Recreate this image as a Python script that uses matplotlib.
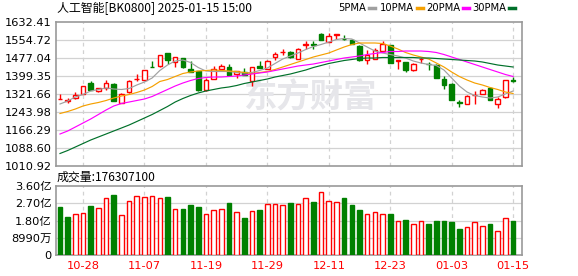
import matplotlib
matplotlib.use('Agg')
import matplotlib.pyplot as plt
from matplotlib.lines import Line2D

plt.rcParams['font.family'] = ['DejaVu Sans', 'Noto Sans CJK SC']

RED = '#ff0000'
GREEN = '#008000'
GRID = '#d2d2d2'
SPINE = '#999999'

dates = ['10-23', '10-24', '10-25', '10-28', '10-29', '10-30', '10-31',
         '11-01', '11-04', '11-05', '11-06', '11-07', '11-08', '11-11', '11-12', '11-13',
         '11-14', '11-15', '11-18', '11-19', '11-20', '11-21', '11-22', '11-25', '11-26',
         '11-27', '11-28', '11-29',
         '12-02', '12-03', '12-04', '12-05', '12-06', '12-09', '12-10', '12-11', '12-12',
         '12-13', '12-16', '12-17', '12-18', '12-19', '12-20', '12-23', '12-24', '12-25',
         '12-26', '12-27', '12-30', '12-31',
         '01-02', '01-03', '01-06', '01-07', '01-08', '01-09', '01-10', '01-13', '01-14',
         '01-15']

opens = [1300.5, 1293.5, 1303.1, 1322.9, 1370.4, 1333.3, 1348.8, 1364.8, 1282.8, 1329.0,
         1385.5, 1382.1, 1439.5, 1441.2, 1498.6, 1461.1, 1477.0, 1429.5, 1419.6, 1340.3,
         1386.4, 1429.5, 1436.8, 1409.3, 1415.3, 1378.0, 1441.0, 1429.5, 1480.0, 1501.5,
         1501.6, 1474.0, 1533.0, 1539.0, 1581.9, 1546.1, 1577.5, 1559.5, 1556.0, 1530.1,
         1469.7, 1474.0, 1508.5, 1531.8, 1466.0, 1459.8, 1424.0, 1473.0, 1452.0, 1448.1,
         1386.4, 1366.1, 1286.0, 1279.8, 1317.5, 1321.6, 1347.5, 1278.5, 1307.4, 1383.0]
highs = [1323.0, 1304.4, 1329.0, 1355.5, 1376.4, 1349.0, 1380.8, 1370.4, 1324.0, 1383.4,
         1409.3, 1425.0, 1462.8, 1490.0, 1499.5, 1481.0, 1478.5, 1465.4, 1420.5, 1390.7,
         1441.2, 1449.8, 1451.1, 1422.0, 1433.9, 1439.0, 1462.8, 1466.5, 1501.6, 1515.9,
         1505.9, 1518.5, 1549.1, 1549.0, 1583.0, 1585.0, 1579.5, 1575.0, 1560.0, 1531.0,
         1510.2, 1520.2, 1549.1, 1532.5, 1468.0, 1460.5, 1453.5, 1475.0, 1458.5, 1449.5,
         1398.0, 1367.0, 1297.1, 1315.5, 1336.0, 1341.5, 1350.6, 1307.4, 1383.0, 1393.7]
lows = [1300.0, 1282.8, 1302.0, 1321.5, 1338.0, 1332.0, 1338.9, 1291.0, 1281.0, 1328.0,
        1376.4, 1381.0, 1437.5, 1440.0, 1452.4, 1439.5, 1436.0, 1414.5, 1333.3, 1333.3,
        1385.0, 1428.0, 1401.0, 1390.7, 1403.0, 1358.0, 1433.5, 1428.5, 1467.1, 1491.3,
        1477.0, 1473.0, 1515.9, 1516.0, 1555.0, 1545.0, 1557.0, 1556.5, 1538.0, 1466.0,
        1452.4, 1473.0, 1507.5, 1454.5, 1430.9, 1415.3, 1423.0, 1455.4, 1424.0, 1389.5,
        1343.2, 1296.0, 1264.2, 1279.0, 1279.8, 1320.5, 1294.5, 1261.2, 1306.0, 1372.2]
closes = [1302.0, 1295.0, 1316.0, 1354.9, 1338.9, 1347.5, 1367.8, 1292.8, 1323.0, 1376.4,
          1388.5, 1423.9, 1438.0, 1488.7, 1467.1, 1480.0, 1436.8, 1415.3, 1340.3, 1383.4,
          1430.9, 1441.2, 1402.3, 1419.6, 1403.7, 1438.0, 1434.0, 1465.4, 1495.6, 1503.0,
          1480.0, 1517.2, 1537.0, 1533.0, 1556.0, 1570.7, 1579.0, 1557.5, 1538.7, 1467.1,
          1491.3, 1510.2, 1538.7, 1455.4, 1467.5, 1424.0, 1452.4, 1474.5, 1449.5, 1390.7,
          1361.8, 1297.1, 1282.0, 1314.3, 1319.0, 1340.3, 1295.5, 1299.0, 1381.0, 1378.0]
prev_close = 1305.0  # close of the session before 10-23

# volume in 亿 (1e8)
volumes = [2.49, 1.97, 2.12, 2.17, 2.54, 2.43, 2.99, 3.11, 2.07, 2.83,
           3.10, 3.01, 3.10, 2.99, 3.01, 2.42, 2.38, 2.59, 2.49, 2.16,
           2.37, 2.42, 2.70, 2.26, 1.91, 2.31, 2.33, 2.64, 2.64, 2.59,
           2.70, 2.64, 2.99, 2.75, 3.30, 2.83, 2.78, 2.96, 2.59, 2.33,
           2.16, 2.26, 2.16, 2.12, 1.79, 1.81, 1.63, 1.79, 1.60, 1.76,
           1.76, 1.70, 1.34, 1.48, 1.74, 1.53, 1.60, 1.27, 1.95, 1.763071]

ma5 = [1278.5, 1291.4, 1308.7, 1319.5, 1334.6, 1341.1, 1347.6, 1343.2, 1341.1, 1345.4,
       1360.5, 1373.5, 1390.7, 1423.1, 1446.8, 1464.1, 1468.4, 1457.6, 1436.0, 1420.9,
       1418.8, 1418.8, 1418.8, 1414.5, 1412.3, 1414.5, 1423.1, 1433.9, 1453.3, 1472.7,
       1485.7, 1498.6, 1513.7, 1526.7, 1535.3, 1546.1, 1556.9, 1561.2, 1559.0, 1541.8,
       1524.5, 1507.2, 1498.6, 1492.1, 1485.7, 1477.0, 1464.1, 1455.5, 1449.0, 1444.7,
       1425.2, 1390.7, 1356.2, 1330.3, 1315.2, 1308.7, 1304.4, 1308.7, 1321.7, 1334.6]
ma10 = [1237.5, 1246.1, 1256.9, 1269.9, 1278.5, 1285.0, 1293.6, 1304.4, 1313.0, 1319.5,
        1328.1, 1338.9, 1354.0, 1375.6, 1384.2, 1397.2, 1410.1, 1416.6, 1420.9, 1423.1,
        1425.2, 1423.1, 1420.9, 1418.8, 1414.5, 1410.1, 1414.5, 1418.8, 1427.4, 1438.2,
        1449.0, 1459.8, 1470.6, 1481.4, 1490.0, 1498.6, 1511.6, 1524.5, 1535.3, 1541.8,
        1541.8, 1541.8, 1539.6, 1528.8, 1515.9, 1500.8, 1490.0, 1481.4, 1472.7, 1455.5,
        1438.2, 1416.6, 1397.2, 1382.1, 1369.1, 1360.5, 1349.7, 1341.1, 1330.3, 1323.8]
ma20 = [1149.0, 1162.0, 1179.2, 1196.5, 1213.8, 1233.2, 1252.6, 1269.9, 1280.7, 1287.1,
        1293.6, 1300.1, 1310.9, 1326.0, 1341.1, 1356.2, 1369.1, 1379.9, 1388.6, 1392.9,
        1395.0, 1395.0, 1397.2, 1399.3, 1403.7, 1408.0, 1412.3, 1416.6, 1423.1, 1429.6,
        1436.0, 1442.5, 1446.8, 1451.1, 1457.6, 1464.1, 1470.6, 1477.0, 1481.4, 1485.7,
        1492.1, 1496.5, 1500.8, 1505.1, 1505.1, 1507.2, 1507.2, 1507.2, 1505.1, 1500.8,
        1492.1, 1481.4, 1470.6, 1459.8, 1449.0, 1438.2, 1427.4, 1416.6, 1405.8, 1397.2]
ma30 = [1064.9, 1077.8, 1092.9, 1108.0, 1123.1, 1136.1, 1149.0, 1162.0, 1174.9, 1187.9,
        1203.0, 1218.1, 1233.2, 1250.4, 1267.7, 1287.1, 1302.2, 1315.2, 1326.0, 1334.6,
        1341.1, 1347.6, 1351.9, 1358.3, 1367.0, 1373.5, 1379.9, 1386.4, 1395.0, 1401.5,
        1408.0, 1416.6, 1425.2, 1436.0, 1444.7, 1453.3, 1459.8, 1466.2, 1470.6, 1474.9,
        1477.0, 1477.0, 1479.2, 1479.2, 1479.2, 1479.2, 1479.2, 1477.0, 1477.0, 1474.9,
        1472.7, 1470.6, 1468.4, 1466.2, 1464.1, 1459.8, 1453.3, 1446.8, 1442.5, 1438.2]

price_ticks = [1010.92, 1088.60, 1166.29, 1243.98, 1321.66, 1399.35, 1477.04, 1554.72, 1632.41]
vol_ticks = [0, 0.899, 1.798, 2.697, 3.596]
vol_labels = ['0', '8990万', '1.80亿', '2.70亿', '3.60亿']
date_ticks = ['10-28', '11-07', '11-19', '11-29', '12-11', '12-23', '01-03', '01-15']

ma_names = ['5PMA', '10PMA', '20PMA', '30PMA']
ma_colors = ['#a0a0a0', '#f5a000', '#ff00ff', '#00702a']

W, H = 578, 276
fig = plt.figure(figsize=(W / 100, H / 100), dpi=100)
ax = fig.add_axes([56 / W, 1 - 166 / H, 466 / W, 144 / H])
axv = fig.add_axes([56 / W, 1 - 255 / H, 466 / W, 69 / H])

n = len(closes)
xs = list(range(n))
tick_idx = [dates.index(d) for d in date_ticks]

for a in (ax, axv):
    for s in a.spines.values():
        s.set_color(SPINE)
        s.set_linewidth(1.2)
    a.set_xlim(-0.52, n + 0.16)
    a.tick_params(length=0, labelsize=8.2)
    a.set_xticks(tick_idx)
    for t in tick_idx:
        a.axvline(t, color=GRID, lw=0.9, ls=(0, (3, 3)), zorder=0)

# price panel
ax.set_ylim(price_ticks[0], price_ticks[-1])
ax.set_yticks(price_ticks)
ax.set_yticklabels(['%.2f' % v for v in price_ticks])
for v in price_ticks[1:-1]:
    ax.axhline(v, color=GRID, lw=0.9, zorder=0)
ax.tick_params(axis='x', labelbottom=False)
ax.tick_params(axis='y', pad=3)

ax.text(0.545, 0.47, '东方财富', transform=ax.transAxes, fontsize=24, fontweight='bold',
        color='#e6e6ea', ha='center', va='center', zorder=0.5,
        family=['Noto Sans CJK SC'])

width = 0.6
for i in xs:
    o, h, l, c = opens[i], highs[i], lows[i], closes[i]
    up = c > o
    col = RED if up else GREEN
    ax.vlines(i, l, h, color=col, lw=1.0, zorder=3)
    lo, hi = min(o, c), max(o, c)
    ax.bar(i, max(hi - lo, 0.3), bottom=lo, width=width,
           facecolor='white' if up else GREEN, edgecolor=col, lw=1.0, zorder=4)

for vals, col in zip([ma5, ma10, ma20, ma30], ma_colors):
    ax.plot(xs, vals, color=col, lw=0.85, zorder=5)

# volume panel
axv.set_ylim(0, vol_ticks[-1])
axv.set_yticks(vol_ticks)
axv.set_yticklabels(vol_labels)
for v in vol_ticks[1:-1]:
    axv.axhline(v, color=GRID, lw=0.9, zorder=0)
axv.set_xticklabels(date_ticks, color=RED)
axv.tick_params(axis='x', pad=4)
axv.tick_params(axis='y', pad=3)

for i in xs:
    before = prev_close if i == 0 else closes[i - 1]
    up = closes[i] >= before
    axv.bar(i, volumes[i], width=0.6, facecolor='white' if up else GREEN,
            edgecolor=RED if up else GREEN, lw=1.0, zorder=3)

# header texts
fig.text(57 / W, 1 - 9 / H, '人工智能[BK0800] 2025-01-15 15:00', fontsize=8.6,
         va='center', ha='left', family=['Noto Sans CJK SC', 'DejaVu Sans'])
fig.text(57 / W, 1 - 177 / H, '成交量:176307100', fontsize=8.6,
         va='center', ha='left', family=['Noto Sans CJK SC', 'DejaVu Sans'])

label_x = [338, 380, 426, 472]
for name, col, lx in zip(ma_names, ma_colors, label_x):
    t = fig.text(lx / W, 1 - 8 / H, name, fontsize=7.2, va='center', ha='left')
    fig.canvas.draw()
    bb = t.get_window_extent()
    x0 = (bb.x1 + 3) / W
    fig.add_artist(Line2D([x0, x0 + 6 / W], [1 - 8 / H] * 2, color=col, lw=2.5))

fig.savefig('out.png', dpi=100)
